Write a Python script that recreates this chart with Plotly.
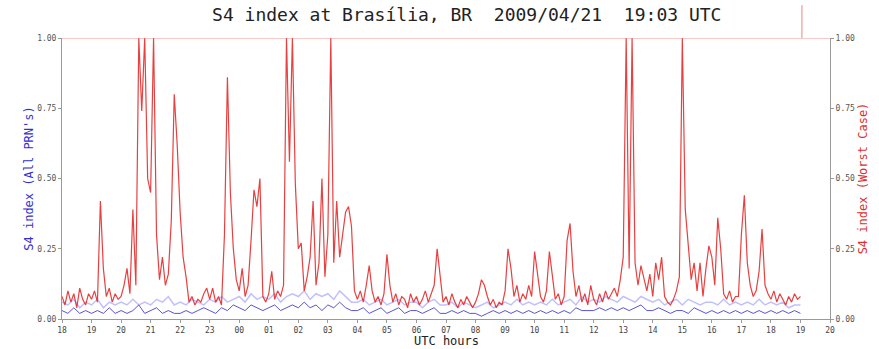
import numpy as np
import plotly.graph_objects as go

# ---------------- data ----------------
# worst-case S4, sampled every 0.1 h from 18.0 UTC (day 1) to 19.0 UTC (day 2 -> 43.0)
worst_case = [
    # 18
    0.08, 0.05, 0.10, 0.06, 0.09, 0.04, 0.11, 0.07, 0.05, 0.09,
    # 19
    0.07, 0.10, 0.06, 0.42, 0.18, 0.08, 0.11, 0.06, 0.09, 0.07,
    # 20
    0.08, 0.12, 0.18, 0.09, 0.39, 0.12, 1.00, 0.74, 1.00, 0.50,
    # 21
    0.45, 1.00, 0.30, 0.14, 0.22, 0.12, 0.16, 0.35, 0.80, 0.62,
    # 22
    0.38, 0.22, 0.15, 0.06, 0.08, 0.05, 0.07, 0.06, 0.09, 0.11,
    # 23
    0.07, 0.11, 0.06, 0.08, 0.05, 0.30, 0.86, 0.45, 0.25, 0.14,
    # 00
    0.10, 0.18, 0.08, 0.12, 0.28, 0.46, 0.40, 0.50, 0.08, 0.06,
    # 01
    0.09, 0.17, 0.07, 0.10, 0.08, 0.12, 1.00, 0.56, 1.00, 0.48,
    # 02
    0.25, 0.27, 0.10, 0.15, 0.22, 0.42, 0.12, 0.20, 0.50, 0.15,
    # 03
    0.30, 1.00, 0.20, 0.42, 0.22, 0.30, 0.38, 0.40, 0.33, 0.10,
    # 04
    0.07, 0.10, 0.06, 0.12, 0.19, 0.10, 0.06, 0.08, 0.05, 0.09,
    # 05
    0.23, 0.12, 0.06, 0.09, 0.05, 0.08, 0.07, 0.04, 0.09, 0.06,
    # 06
    0.08, 0.05, 0.07, 0.10, 0.06, 0.09, 0.12, 0.25, 0.15, 0.06,
    # 07
    0.08, 0.05, 0.09, 0.06, 0.04, 0.07, 0.05, 0.08, 0.06, 0.04,
    # 08
    0.06, 0.09, 0.14, 0.12, 0.08, 0.05, 0.07, 0.04, 0.06, 0.05,
    # 09
    0.10, 0.25, 0.18, 0.08, 0.12, 0.06, 0.09, 0.07, 0.12, 0.08,
    # 10
    0.24, 0.15, 0.08, 0.06, 0.10, 0.24, 0.16, 0.07, 0.09, 0.05,
    # 11
    0.08, 0.28, 0.34, 0.17, 0.08, 0.12, 0.06, 0.09, 0.05, 0.12,
    # 12
    0.07, 0.05, 0.09, 0.06, 0.10, 0.07, 0.09, 0.11, 0.08, 0.14,
    # 13
    0.22, 1.00, 0.18, 1.00, 0.20, 0.12, 0.19, 0.15, 0.10, 0.16,
    # 14
    0.08, 0.20, 0.14, 0.22, 0.08, 0.06, 0.05, 0.07, 0.10, 0.15,
    # 15
    1.00, 0.39, 0.27, 0.14, 0.20, 0.10, 0.20, 0.08, 0.18, 0.26,
    # 16
    0.22, 0.12, 0.36, 0.25, 0.09, 0.07, 0.10, 0.06, 0.08, 0.08,
    # 17
    0.30, 0.44, 0.20, 0.12, 0.08, 0.10, 0.17, 0.32, 0.12, 0.09,
    # 18
    0.07, 0.10, 0.06, 0.09, 0.07, 0.05, 0.08, 0.06, 0.09, 0.07,
    # 19
    0.08,
]

# all-PRN S4, sampled every 0.2 h
all_prn_low = [
    0.03, 0.02, 0.04, 0.02, 0.03,
    0.02, 0.03, 0.02, 0.04, 0.02,
    0.03, 0.02, 0.03, 0.05, 0.02,
    0.03, 0.04, 0.02, 0.03, 0.02,
    0.02, 0.03, 0.02, 0.03, 0.04,
    0.03, 0.02, 0.04, 0.03, 0.05,
    0.04, 0.03, 0.05, 0.04, 0.03,
    0.04, 0.05, 0.03, 0.04, 0.05,
    0.04, 0.06, 0.04, 0.05, 0.03,
    0.05, 0.04, 0.06, 0.04, 0.03,
    0.03, 0.04, 0.02, 0.03, 0.04,
    0.02, 0.03, 0.04, 0.02, 0.03,
    0.03, 0.02, 0.03, 0.04, 0.02,
    0.02, 0.03, 0.02, 0.03, 0.02,
    0.02, 0.01, 0.02, 0.03, 0.02,
    0.03, 0.02, 0.03, 0.02, 0.03,
    0.02, 0.03, 0.02, 0.03, 0.02,
    0.03, 0.02, 0.04, 0.03, 0.03,
    0.03, 0.04, 0.03, 0.04, 0.03,
    0.04, 0.03, 0.04, 0.05, 0.03,
    0.03, 0.04, 0.03, 0.02, 0.03,
    0.03, 0.02, 0.04, 0.03, 0.02,
    0.03, 0.02, 0.03, 0.02, 0.03,
    0.02, 0.03, 0.02, 0.03, 0.02,
    0.03, 0.02, 0.03, 0.02, 0.03,
    0.02,
]

all_prn_high = [
    0.06, 0.05, 0.07, 0.04, 0.06,
    0.05, 0.07, 0.04, 0.06, 0.05,
    0.06, 0.05, 0.07, 0.05, 0.06,
    0.05, 0.07, 0.06, 0.08, 0.05,
    0.06, 0.05, 0.07, 0.06, 0.05,
    0.07, 0.06, 0.08, 0.06, 0.07,
    0.08, 0.06, 0.09, 0.07, 0.08,
    0.07, 0.09, 0.06, 0.08, 0.09,
    0.08, 0.10, 0.07, 0.09, 0.08,
    0.09, 0.07, 0.10, 0.08, 0.06,
    0.06, 0.07, 0.05, 0.06, 0.07,
    0.05, 0.06, 0.07, 0.05, 0.06,
    0.06, 0.04, 0.06, 0.07, 0.05,
    0.05, 0.06, 0.04, 0.06, 0.05,
    0.04, 0.05, 0.06, 0.04, 0.05,
    0.06, 0.05, 0.07, 0.05, 0.06,
    0.05, 0.06, 0.05, 0.07, 0.05,
    0.06, 0.07, 0.05, 0.08, 0.06,
    0.07, 0.06, 0.08, 0.07, 0.06,
    0.08, 0.07, 0.06, 0.08, 0.07,
    0.06, 0.07, 0.05, 0.06, 0.07,
    0.05, 0.07, 0.06, 0.05, 0.06,
    0.06, 0.05, 0.07, 0.05, 0.06,
    0.05, 0.06, 0.05, 0.07, 0.05,
    0.06, 0.05, 0.06, 0.04, 0.05,
    0.05,
]

start_hour = 18.0
hours_wc = start_hour + 0.1 * np.arange(len(worst_case))
hours_prn = start_hour + 0.2 * np.arange(len(all_prn_low))

tick_hours = list(range(18, 45))
tick_labels = ["%02d" % (h % 24) for h in tick_hours]
y_ticks = [0.0, 0.25, 0.5, 0.75, 1.0]
y_labels = ["0.00", "0.25", "0.50", "0.75", "1.00"]
now_hour = 24 + 19 + 3 / 60.0
saturation_level = 1.0

title_text = "S4 index at Brasília, BR\u00a0\u00a02009/04/21\u00a0\u00a019:03 UTC"

MONO = "DejaVu Sans Mono"

# ---------------- figure ----------------
fig = go.Figure()

fig.add_trace(go.Scatter(
    x=hours_prn, y=all_prn_high, mode="lines",
    line=dict(color="rgba(150,150,255,0.6)", width=1.5),
    showlegend=False, hoverinfo="skip"))
fig.add_trace(go.Scatter(
    x=hours_wc, y=worst_case, mode="lines",
    line=dict(color="rgba(228,30,30,0.85)", width=1.2),
    showlegend=False, yaxis="y2"))
fig.add_trace(go.Scatter(
    x=hours_prn, y=all_prn_low, mode="lines",
    line=dict(color="rgba(50,40,200,0.8)", width=1),
    showlegend=False))

fig.add_shape(type="line", xref="paper", yref="y", x0=0, x1=1,
              y0=saturation_level, y1=saturation_level,
              line=dict(color="rgba(235,120,120,0.8)", width=1))
fig.add_shape(type="line", xref="x", yref="paper", x0=now_hour, x1=now_hour,
              y0=1.0, y1=1.117,
              line=dict(color="rgba(235,120,120,0.9)", width=1))

fig.add_annotation(text="UTC hours", xref="paper", yref="paper",
                   x=0.5, y=-0.079, xanchor="center", yanchor="middle",
                   showarrow=False, borderpad=0,
                   font=dict(family=MONO, size=12, color="#222"))

axis_common = dict(
    showgrid=False, zeroline=False, showline=True,
    linecolor="#9a9a9a", linewidth=1,
    ticks="outside", ticklen=3, tickcolor="#9a9a9a",
    automargin=False,
)

fig.update_layout(
    width=879, height=349,
    margin=dict(l=62, r=49, t=38, b=30),
    paper_bgcolor="white", plot_bgcolor="white",
    title=dict(text=title_text, x=0.531, xanchor="center",
               y=0.957, yanchor="middle", yref="container",
               font=dict(family=MONO, size=18, color="#222")),
    xaxis=dict(range=[18, 44], tickvals=tick_hours, ticktext=tick_labels,
               tickfont=dict(family=MONO, size=8, color="#444"),
               **axis_common),
    yaxis=dict(range=[0, 1], tickvals=y_ticks, ticktext=y_labels,
               tickfont=dict(family=MONO, size=8, color="#555"),
               title=dict(text="S4 index (All PRN's)", standoff=0,
                          font=dict(family=MONO, size=12, color="#3030d0")),
               **axis_common),
    yaxis2=dict(range=[0, 1], tickvals=y_ticks, ticktext=y_labels,
                overlaying="y", side="right",
                tickfont=dict(family=MONO, size=8, color="#555"),
                title=dict(text="S4 index (Worst Case)", standoff=4,
                           font=dict(family=MONO, size=12, color="#e03030")),
                **axis_common),
)

# remove the default 8px page margin so the figure fills the window exactly
fig.write_html("out.html",
               config={"displayModeBar": False},
               post_script="document.body.style.margin='0px';")
